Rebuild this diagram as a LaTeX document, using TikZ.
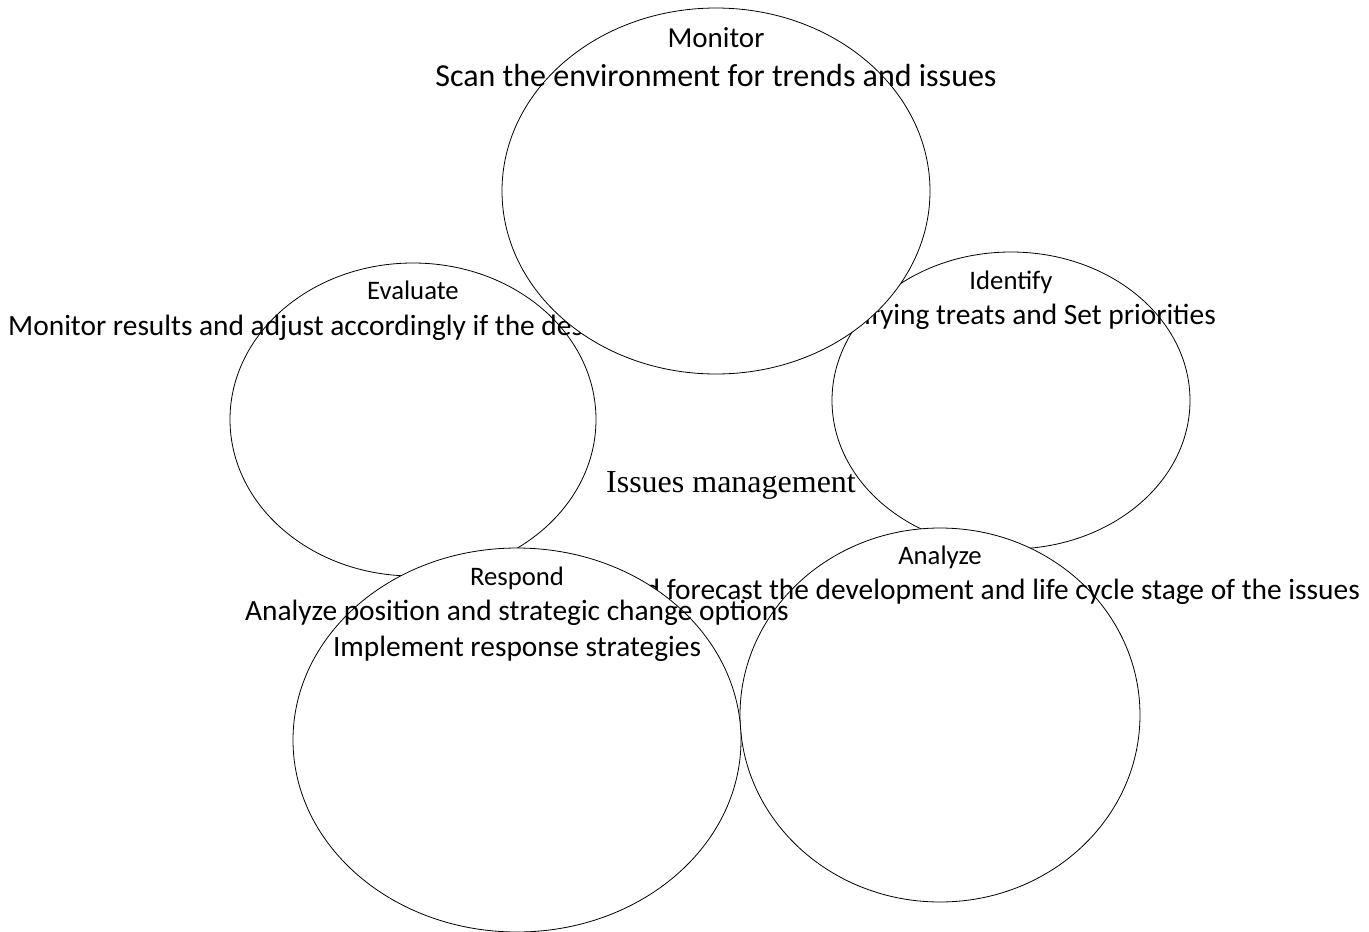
\documentclass[tikz,border=0pt]{standalone}
\usepackage{fontspec}
\setmainfont{Carlito}
\newfontfamily\serifface{Liberation Serif}
\usetikzlibrary{shapes.geometric}
\usetikzlibrary{positioning}

\tikzset{
  stage/.style={ellipse, draw=black, fill=white, line width=0.8pt, inner sep=0pt},
  head/.style={anchor=base, inner sep=0pt, font=\fontsize{26.7}{32}\selectfont},
  task/.style={anchor=base, inner sep=0pt, font=\fontsize{29.4}{35}\selectfont},
  big/.style={font=\fontsize{#1}{38}\selectfont},
}

\begin{document}
\begin{tikzpicture}[x=1pt, y=-1pt]
            \useasboundingbox (0,0) rectangle (1369,932);

            % Evaluate
            \node[stage, minimum width=366pt, minimum height=313pt] (evaluate) at (413,419.5) {};
            \node[head] (evalhead) at (413,299) {Evaluate};
            \node[task, anchor=base west] (evaltask) at (8,335) {Monitor results and adjust accordingly if the desired results are not achieved};

            % Identify
            \node[stage, minimum width=358pt, minimum height=297pt] (identify) at (1011,400.5) {};
            \node[head] (idhead) at (1011,289) {Identify};
            \node[task, anchor=base east] (idtask) at (1216,324) {Identifying treats and Set priorities};

            % Monitor
            \node[stage, minimum width=428pt, minimum height=366pt] (monitor) at (716,191) {};
            \node[head, big=29] (monhead) at (716,47) {Monitor};
            \node[task, big=32] (montask) at (716,86) {Scan the environment for trends and issues};

            % Analyze
            \node[stage, minimum width=400pt, minimum height=374pt] (analyze) at (940,715) {};
            \node[head] (anahead) at (940,564) {Analyze};
            \node[task, anchor=base east] (anatask) at (1360,599) {Analyze and forecast the development and life cycle stage of the issues};

            % Respond
            \node[stage, minimum width=448pt, minimum height=384pt] (respond) at (517,740) {};
            \node[head] (reshead) at (517,585) {Respond};
            \node[task] (restask) at (517,620) {Analyze position and strategic change options};
            \node[task] (resimpl) at (517,656) {Implement response strategies};

            \node[anchor=base, inner sep=0pt, font=\serifface\fontsize{32}{38}\selectfont] (issues) at (731,492) {Issues management};
        \end{tikzpicture}
\end{document}
